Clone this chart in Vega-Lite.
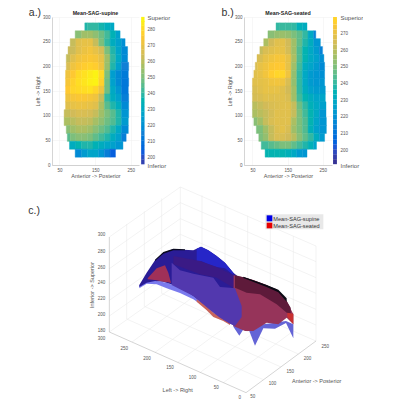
{
"$schema":"https://vega.github.io/schema/vega-lite/v6.json",
"padding":{"left":28,"top":7,"right":0,"bottom":0},
"background":"white",
"config":{"font":"Liberation Sans","view":{"stroke":null},"axis":{"grid":false,"domainColor":"#aaa","tickSize":0,"labelColor":"#555","titleColor":"#555","labelFontWeight":"normal","titleFontWeight":"normal"}},
"datasets":{
"a":[
{"x":121,"x2":128,"y":280,"v":238},{"x":128,"x2":144,"y":280,"v":240},{"x":144,"x2":160,"y":280,"v":240},{"x":160,"x2":176,"y":280,"v":237},{"x":176,"x2":192,"y":280,"v":233},{"x":192,"x2":203,"y":280,"v":230},
{"x":94,"x2":112,"y":264,"v":252},{"x":112,"x2":128,"y":264,"v":256},{"x":128,"x2":144,"y":264,"v":256},{"x":144,"x2":160,"y":264,"v":253},{"x":160,"x2":176,"y":264,"v":248},{"x":176,"x2":192,"y":264,"v":242},{"x":192,"x2":208,"y":264,"v":235},{"x":208,"x2":220,"y":264,"v":226},
{"x":80,"x2":96,"y":248,"v":262},{"x":96,"x2":112,"y":248,"v":268},{"x":112,"x2":128,"y":248,"v":270},{"x":128,"x2":144,"y":248,"v":270},{"x":144,"x2":160,"y":248,"v":262},{"x":160,"x2":176,"y":248,"v":250},{"x":176,"x2":192,"y":248,"v":240},{"x":192,"x2":208,"y":248,"v":232},{"x":208,"x2":224,"y":248,"v":226},{"x":224,"x2":234,"y":248,"v":220},
{"x":74,"x2":96,"y":232,"v":263},{"x":96,"x2":112,"y":232,"v":268},{"x":112,"x2":128,"y":232,"v":271},{"x":128,"x2":144,"y":232,"v":273},{"x":144,"x2":160,"y":232,"v":270},{"x":160,"x2":176,"y":232,"v":265},{"x":176,"x2":192,"y":232,"v":250},{"x":192,"x2":208,"y":232,"v":238},{"x":208,"x2":224,"y":232,"v":228},{"x":224,"x2":241,"y":232,"v":218},
{"x":69,"x2":80,"y":216,"v":262},{"x":80,"x2":96,"y":216,"v":268},{"x":96,"x2":112,"y":216,"v":272},{"x":112,"x2":128,"y":216,"v":274},{"x":128,"x2":144,"y":216,"v":275},{"x":144,"x2":160,"y":216,"v":274},{"x":160,"x2":176,"y":216,"v":270},{"x":176,"x2":192,"y":216,"v":256},{"x":192,"x2":208,"y":216,"v":240},{"x":208,"x2":224,"y":216,"v":230},{"x":224,"x2":241,"y":216,"v":218},
{"x":69,"x2":80,"y":200,"v":266},{"x":80,"x2":96,"y":200,"v":272},{"x":96,"x2":112,"y":200,"v":275},{"x":112,"x2":128,"y":200,"v":277},{"x":128,"x2":144,"y":200,"v":278},{"x":144,"x2":160,"y":200,"v":277},{"x":160,"x2":176,"y":200,"v":272},{"x":176,"x2":192,"y":200,"v":255},{"x":192,"x2":208,"y":200,"v":238},{"x":208,"x2":224,"y":200,"v":226},{"x":224,"x2":244,"y":200,"v":215},
{"x":67,"x2":80,"y":184,"v":272},{"x":80,"x2":96,"y":184,"v":276},{"x":96,"x2":112,"y":184,"v":280},{"x":112,"x2":128,"y":184,"v":282},{"x":128,"x2":144,"y":184,"v":284},{"x":144,"x2":160,"y":184,"v":286},{"x":160,"x2":176,"y":184,"v":280},{"x":176,"x2":192,"y":184,"v":250},{"x":192,"x2":208,"y":184,"v":225},{"x":208,"x2":224,"y":184,"v":218},{"x":224,"x2":243,"y":184,"v":213},
{"x":67,"x2":80,"y":168,"v":274},{"x":80,"x2":96,"y":168,"v":278},{"x":96,"x2":112,"y":168,"v":281},{"x":112,"x2":128,"y":168,"v":283},{"x":128,"x2":144,"y":168,"v":285},{"x":144,"x2":160,"y":168,"v":286},{"x":160,"x2":176,"y":168,"v":278},{"x":176,"x2":192,"y":168,"v":248},{"x":192,"x2":208,"y":168,"v":226},{"x":208,"x2":224,"y":168,"v":218},{"x":224,"x2":244,"y":168,"v":212},
{"x":67,"x2":80,"y":152,"v":276},{"x":80,"x2":96,"y":152,"v":279},{"x":96,"x2":112,"y":152,"v":280},{"x":112,"x2":128,"y":152,"v":281},{"x":128,"x2":144,"y":152,"v":282},{"x":144,"x2":160,"y":152,"v":279},{"x":160,"x2":176,"y":152,"v":272},{"x":176,"x2":192,"y":152,"v":248},{"x":192,"x2":208,"y":152,"v":230},{"x":208,"x2":224,"y":152,"v":222},{"x":224,"x2":243,"y":152,"v":212},
{"x":67,"x2":80,"y":136,"v":272},{"x":80,"x2":96,"y":136,"v":274},{"x":96,"x2":112,"y":136,"v":275},{"x":112,"x2":128,"y":136,"v":275},{"x":128,"x2":144,"y":136,"v":274},{"x":144,"x2":160,"y":136,"v":272},{"x":160,"x2":176,"y":136,"v":262},{"x":176,"x2":192,"y":136,"v":240},{"x":192,"x2":208,"y":136,"v":232},{"x":208,"x2":224,"y":136,"v":226},{"x":224,"x2":244,"y":136,"v":214},
{"x":67,"x2":80,"y":120,"v":268},{"x":80,"x2":96,"y":120,"v":270},{"x":96,"x2":112,"y":120,"v":271},{"x":112,"x2":128,"y":120,"v":271},{"x":128,"x2":144,"y":120,"v":270},{"x":144,"x2":160,"y":120,"v":268},{"x":160,"x2":176,"y":120,"v":258},{"x":176,"x2":192,"y":120,"v":245},{"x":192,"x2":208,"y":120,"v":238},{"x":208,"x2":224,"y":120,"v":232},{"x":224,"x2":244,"y":120,"v":218},
{"x":63,"x2":80,"y":104,"v":262},{"x":80,"x2":96,"y":104,"v":264},{"x":96,"x2":112,"y":104,"v":266},{"x":112,"x2":128,"y":104,"v":266},{"x":128,"x2":144,"y":104,"v":265},{"x":144,"x2":160,"y":104,"v":262},{"x":160,"x2":176,"y":104,"v":256},{"x":176,"x2":192,"y":104,"v":250},{"x":192,"x2":208,"y":104,"v":245},{"x":208,"x2":224,"y":104,"v":238},{"x":224,"x2":244,"y":104,"v":222},
{"x":63,"x2":80,"y":88,"v":258},{"x":80,"x2":96,"y":88,"v":260},{"x":96,"x2":112,"y":88,"v":262},{"x":112,"x2":128,"y":88,"v":262},{"x":128,"x2":144,"y":88,"v":261},{"x":144,"x2":160,"y":88,"v":257},{"x":160,"x2":176,"y":88,"v":253},{"x":176,"x2":192,"y":88,"v":248},{"x":192,"x2":208,"y":88,"v":244},{"x":208,"x2":224,"y":88,"v":238},{"x":224,"x2":243,"y":88,"v":224},
{"x":69,"x2":80,"y":72,"v":252},{"x":80,"x2":96,"y":72,"v":256},{"x":96,"x2":112,"y":72,"v":258},{"x":112,"x2":128,"y":72,"v":258},{"x":128,"x2":144,"y":72,"v":256},{"x":144,"x2":160,"y":72,"v":252},{"x":160,"x2":176,"y":72,"v":248},{"x":176,"x2":192,"y":72,"v":244},{"x":192,"x2":208,"y":72,"v":238},{"x":208,"x2":224,"y":72,"v":230},{"x":224,"x2":243,"y":72,"v":218},
{"x":72,"x2":80,"y":56,"v":245},{"x":80,"x2":96,"y":56,"v":250},{"x":96,"x2":112,"y":56,"v":252},{"x":112,"x2":128,"y":56,"v":252},{"x":128,"x2":144,"y":56,"v":250},{"x":144,"x2":160,"y":56,"v":246},{"x":160,"x2":176,"y":56,"v":242},{"x":176,"x2":192,"y":56,"v":238},{"x":192,"x2":208,"y":56,"v":232},{"x":208,"x2":224,"y":56,"v":226},{"x":224,"x2":237,"y":56,"v":214},
{"x":78,"x2":96,"y":40,"v":232},{"x":96,"x2":112,"y":40,"v":236},{"x":112,"x2":128,"y":40,"v":238},{"x":128,"x2":144,"y":40,"v":238},{"x":144,"x2":160,"y":40,"v":235},{"x":160,"x2":176,"y":40,"v":232},{"x":176,"x2":192,"y":40,"v":229},{"x":192,"x2":208,"y":40,"v":226},{"x":208,"x2":228,"y":40,"v":222},
{"x":94,"x2":112,"y":24,"v":218},{"x":112,"x2":128,"y":24,"v":224},{"x":128,"x2":144,"y":24,"v":228},{"x":144,"x2":160,"y":24,"v":228},{"x":160,"x2":176,"y":24,"v":222},{"x":176,"x2":192,"y":24,"v":214},{"x":192,"x2":207,"y":24,"v":204}
],
"b":[
{"x":117,"x2":128,"y":280,"v":240},{"x":128,"x2":144,"y":280,"v":241},{"x":144,"x2":160,"y":280,"v":241},{"x":160,"x2":176,"y":280,"v":240},{"x":176,"x2":192,"y":280,"v":234},{"x":192,"x2":205,"y":280,"v":232},
{"x":94,"x2":112,"y":264,"v":252},{"x":112,"x2":128,"y":264,"v":254},{"x":128,"x2":144,"y":264,"v":255},{"x":144,"x2":160,"y":264,"v":254},{"x":160,"x2":176,"y":264,"v":250},{"x":176,"x2":192,"y":264,"v":246},{"x":192,"x2":208,"y":264,"v":240},{"x":208,"x2":224,"y":264,"v":230},{"x":224,"x2":230,"y":264,"v":216},
{"x":82,"x2":96,"y":248,"v":258},{"x":96,"x2":112,"y":248,"v":264},{"x":112,"x2":128,"y":248,"v":268},{"x":128,"x2":144,"y":248,"v":269},{"x":144,"x2":160,"y":248,"v":264},{"x":160,"x2":176,"y":248,"v":256},{"x":176,"x2":192,"y":248,"v":246},{"x":192,"x2":208,"y":248,"v":238},{"x":208,"x2":224,"y":248,"v":232},{"x":224,"x2":243,"y":248,"v":222},
{"x":71,"x2":80,"y":232,"v":262},{"x":80,"x2":96,"y":232,"v":266},{"x":96,"x2":112,"y":232,"v":268},{"x":112,"x2":128,"y":232,"v":270},{"x":128,"x2":144,"y":232,"v":270},{"x":144,"x2":160,"y":232,"v":265},{"x":160,"x2":176,"y":232,"v":256},{"x":176,"x2":192,"y":232,"v":244},{"x":192,"x2":208,"y":232,"v":236},{"x":208,"x2":224,"y":232,"v":230},{"x":224,"x2":240,"y":232,"v":224},{"x":240,"x2":249,"y":232,"v":216},
{"x":63,"x2":80,"y":216,"v":266},{"x":80,"x2":96,"y":216,"v":270},{"x":96,"x2":112,"y":216,"v":272},{"x":112,"x2":128,"y":216,"v":274},{"x":128,"x2":144,"y":216,"v":274},{"x":144,"x2":160,"y":216,"v":270},{"x":160,"x2":176,"y":216,"v":258},{"x":176,"x2":192,"y":216,"v":244},{"x":192,"x2":208,"y":216,"v":236},{"x":208,"x2":224,"y":216,"v":230},{"x":224,"x2":240,"y":216,"v":226},{"x":240,"x2":253,"y":216,"v":220},
{"x":58,"x2":64,"y":200,"v":266},{"x":64,"x2":80,"y":200,"v":270},{"x":80,"x2":96,"y":200,"v":272},{"x":96,"x2":112,"y":200,"v":275},{"x":112,"x2":128,"y":200,"v":276},{"x":128,"x2":144,"y":200,"v":276},{"x":144,"x2":160,"y":200,"v":270},{"x":160,"x2":176,"y":200,"v":256},{"x":176,"x2":192,"y":200,"v":242},{"x":192,"x2":208,"y":200,"v":232},{"x":208,"x2":224,"y":200,"v":228},{"x":224,"x2":240,"y":200,"v":224},{"x":240,"x2":255,"y":200,"v":218},
{"x":54,"x2":64,"y":184,"v":268},{"x":64,"x2":80,"y":184,"v":270},{"x":80,"x2":96,"y":184,"v":273},{"x":96,"x2":112,"y":184,"v":277},{"x":112,"x2":128,"y":184,"v":279},{"x":128,"x2":144,"y":184,"v":279},{"x":144,"x2":160,"y":184,"v":272},{"x":160,"x2":176,"y":184,"v":254},{"x":176,"x2":192,"y":184,"v":240},{"x":192,"x2":208,"y":184,"v":230},{"x":208,"x2":224,"y":184,"v":224},{"x":224,"x2":240,"y":184,"v":222},{"x":240,"x2":255,"y":184,"v":220},
{"x":50,"x2":64,"y":168,"v":268},{"x":64,"x2":80,"y":168,"v":269},{"x":80,"x2":96,"y":168,"v":270},{"x":96,"x2":112,"y":168,"v":272},{"x":112,"x2":128,"y":168,"v":273},{"x":128,"x2":144,"y":168,"v":272},{"x":144,"x2":160,"y":168,"v":266},{"x":160,"x2":176,"y":168,"v":254},{"x":176,"x2":192,"y":168,"v":240},{"x":192,"x2":208,"y":168,"v":230},{"x":208,"x2":224,"y":168,"v":224},{"x":224,"x2":240,"y":168,"v":222},{"x":240,"x2":255,"y":168,"v":222},
{"x":50,"x2":64,"y":152,"v":266},{"x":64,"x2":80,"y":152,"v":268},{"x":80,"x2":96,"y":152,"v":270},{"x":96,"x2":112,"y":152,"v":270},{"x":112,"x2":128,"y":152,"v":270},{"x":128,"x2":144,"y":152,"v":268},{"x":144,"x2":160,"y":152,"v":264},{"x":160,"x2":176,"y":152,"v":256},{"x":176,"x2":192,"y":152,"v":240},{"x":192,"x2":208,"y":152,"v":232},{"x":208,"x2":224,"y":152,"v":226},{"x":224,"x2":240,"y":152,"v":224},{"x":240,"x2":257,"y":152,"v":224},
{"x":50,"x2":64,"y":136,"v":265},{"x":64,"x2":80,"y":136,"v":266},{"x":80,"x2":96,"y":136,"v":268},{"x":96,"x2":112,"y":136,"v":268},{"x":112,"x2":128,"y":136,"v":268},{"x":128,"x2":144,"y":136,"v":268},{"x":144,"x2":160,"y":136,"v":266},{"x":160,"x2":176,"y":136,"v":256},{"x":176,"x2":192,"y":136,"v":242},{"x":192,"x2":208,"y":136,"v":236},{"x":208,"x2":224,"y":136,"v":232},{"x":224,"x2":240,"y":136,"v":228},{"x":240,"x2":257,"y":136,"v":228},
{"x":50,"x2":64,"y":120,"v":260},{"x":64,"x2":80,"y":120,"v":262},{"x":80,"x2":96,"y":120,"v":264},{"x":96,"x2":112,"y":120,"v":266},{"x":112,"x2":128,"y":120,"v":267},{"x":128,"x2":144,"y":120,"v":268},{"x":144,"x2":160,"y":120,"v":268},{"x":160,"x2":176,"y":120,"v":262},{"x":176,"x2":192,"y":120,"v":248},{"x":192,"x2":208,"y":120,"v":240},{"x":208,"x2":224,"y":120,"v":234},{"x":224,"x2":240,"y":120,"v":230},{"x":240,"x2":259,"y":120,"v":226},
{"x":50,"x2":64,"y":104,"v":258},{"x":64,"x2":80,"y":104,"v":260},{"x":80,"x2":96,"y":104,"v":262},{"x":96,"x2":112,"y":104,"v":265},{"x":112,"x2":128,"y":104,"v":268},{"x":128,"x2":144,"y":104,"v":268},{"x":144,"x2":160,"y":104,"v":268},{"x":160,"x2":176,"y":104,"v":262},{"x":176,"x2":192,"y":104,"v":250},{"x":192,"x2":208,"y":104,"v":242},{"x":208,"x2":224,"y":104,"v":236},{"x":224,"x2":240,"y":104,"v":230},{"x":240,"x2":259,"y":104,"v":222},
{"x":54,"x2":64,"y":88,"v":252},{"x":64,"x2":80,"y":88,"v":256},{"x":80,"x2":96,"y":88,"v":262},{"x":96,"x2":112,"y":88,"v":266},{"x":112,"x2":128,"y":88,"v":268},{"x":128,"x2":144,"y":88,"v":268},{"x":144,"x2":160,"y":88,"v":268},{"x":160,"x2":176,"y":88,"v":258},{"x":176,"x2":192,"y":88,"v":250},{"x":192,"x2":208,"y":88,"v":244},{"x":208,"x2":224,"y":88,"v":236},{"x":224,"x2":240,"y":88,"v":228},{"x":240,"x2":260,"y":88,"v":222},
{"x":61,"x2":80,"y":72,"v":250},{"x":80,"x2":96,"y":72,"v":256},{"x":96,"x2":112,"y":72,"v":262},{"x":112,"x2":128,"y":72,"v":267},{"x":128,"x2":144,"y":72,"v":269},{"x":144,"x2":160,"y":72,"v":266},{"x":160,"x2":176,"y":72,"v":256},{"x":176,"x2":192,"y":72,"v":250},{"x":192,"x2":208,"y":72,"v":244},{"x":208,"x2":224,"y":72,"v":234},{"x":224,"x2":240,"y":72,"v":226},{"x":240,"x2":260,"y":72,"v":222},
{"x":68,"x2":80,"y":56,"v":250},{"x":80,"x2":96,"y":56,"v":254},{"x":96,"x2":112,"y":56,"v":262},{"x":112,"x2":128,"y":56,"v":266},{"x":128,"x2":144,"y":56,"v":266},{"x":144,"x2":160,"y":56,"v":264},{"x":160,"x2":176,"y":56,"v":260},{"x":176,"x2":192,"y":56,"v":252},{"x":192,"x2":208,"y":56,"v":246},{"x":208,"x2":224,"y":56,"v":240},{"x":224,"x2":240,"y":56,"v":232},{"x":240,"x2":255,"y":56,"v":224},
{"x":75,"x2":96,"y":40,"v":242},{"x":96,"x2":112,"y":40,"v":245},{"x":112,"x2":128,"y":40,"v":247},{"x":128,"x2":144,"y":40,"v":250},{"x":144,"x2":160,"y":40,"v":250},{"x":160,"x2":176,"y":40,"v":246},{"x":176,"x2":192,"y":40,"v":242},{"x":192,"x2":208,"y":40,"v":238},{"x":208,"x2":224,"y":40,"v":234},{"x":224,"x2":232,"y":40,"v":228},
{"x":86,"x2":96,"y":24,"v":236},{"x":96,"x2":112,"y":24,"v":236},{"x":112,"x2":128,"y":24,"v":236},{"x":128,"x2":144,"y":24,"v":236},{"x":144,"x2":160,"y":24,"v":234},{"x":160,"x2":176,"y":24,"v":230},{"x":176,"x2":192,"y":24,"v":224},{"x":192,"x2":205,"y":24,"v":222}
],
"barA":[{"v":197},{"v":200},{"v":203},{"v":206},{"v":209},{"v":212},{"v":215},{"v":218},{"v":221},{"v":224},{"v":227},{"v":230},{"v":233},{"v":236},{"v":239},{"v":242},{"v":245},{"v":248},{"v":251},{"v":254},{"v":257},{"v":260},{"v":263},{"v":266},{"v":269},{"v":272},{"v":275},{"v":278},{"v":281},{"v":284},{"v":286.5}],
"barB":[{"v":193},{"v":196},{"v":199},{"v":202},{"v":205},{"v":208},{"v":211},{"v":214},{"v":217},{"v":220},{"v":223},{"v":226},{"v":229},{"v":232},{"v":235},{"v":238},{"v":241},{"v":244},{"v":247},{"v":250},{"v":253},{"v":256},{"v":259},{"v":262},{"v":265},{"v":268},{"v":271},{"v":274},{"v":277},{"v":278.5}],
"frame":[
{"x":670,"y":605,"x2":880,"y2":450,"k":"g"},{"x":601,"y":574,"x2":811,"y2":419,"k":"g"},{"x":533,"y":544,"x2":743,"y2":389,"k":"g"},{"x":465,"y":514,"x2":675,"y2":359,"k":"g"},{"x":396,"y":483,"x2":606,"y2":328,"k":"g"},
{"x":790,"y":596,"x2":380,"y2":414,"k":"g"},{"x":843,"y":558,"x2":433,"y2":376,"k":"g"},{"x":895,"y":519,"x2":485,"y2":337,"k":"g"},
{"x":380,"y":129,"x2":380,"y2":414,"k":"g"},{"x":433,"y":91,"x2":433,"y2":376,"k":"g"},{"x":485,"y":52,"x2":485,"y2":337,"k":"g"},
{"x":328,"y":215,"x2":541,"y2":65,"k":"g"},{"x":328,"y":263,"x2":541,"y2":113,"k":"g"},{"x":328,"y":310,"x2":541,"y2":160,"k":"g"},{"x":328,"y":358,"x2":541,"y2":208,"k":"g"},{"x":328,"y":405,"x2":541,"y2":255,"k":"g"},
{"x":606,"y":43,"x2":606,"y2":328,"k":"g"},{"x":675,"y":74,"x2":675,"y2":359,"k":"g"},{"x":743,"y":104,"x2":743,"y2":389,"k":"g"},{"x":811,"y":134,"x2":811,"y2":419,"k":"g"},{"x":880,"y":165,"x2":880,"y2":450,"k":"g"},
{"x":541,"y":65,"x2":948,"y2":242,"k":"g"},{"x":541,"y":113,"x2":948,"y2":290,"k":"g"},{"x":541,"y":160,"x2":948,"y2":337,"k":"g"},{"x":541,"y":208,"x2":948,"y2":385,"k":"g"},{"x":541,"y":255,"x2":948,"y2":432,"k":"g"},
{"x":328,"y":168,"x2":541,"y2":18,"k":"g"},{"x":541,"y":18,"x2":948,"y2":195,"k":"g"},{"x":541,"y":18,"x2":541,"y2":303,"k":"g"},{"x":948,"y":195,"x2":948,"y2":480,"k":"g"},{"x":328,"y":453,"x2":541,"y2":303,"k":"g"},{"x":541,"y":303,"x2":948,"y2":480,"k":"g"},
{"x":328,"y":168,"x2":328,"y2":453,"k":"d"},{"x":328,"y":453,"x2":738,"y2":635,"k":"d"},{"x":738,"y":635,"x2":948,"y2":480,"k":"d"}
],
"surface":[
{"p":"a","x":418,"y":312,"y2":322},{"p":"a","x":440,"y":300,"y2":308},{"p":"a","x":470,"y":300,"y2":310},{"p":"a","x":500,"y":305,"y2":322},{"p":"a","x":540,"y":320,"y2":336},{"p":"a","x":580,"y":340,"y2":355},{"p":"a","x":610,"y":365,"y2":375},
{"p":"b","x":590,"y":355,"y2":362},{"p":"b","x":620,"y":375,"y2":388},{"p":"b","x":640,"y":395,"y2":408},{"p":"b","x":670,"y":410,"y2":420},{"p":"b","x":690,"y":425,"y2":432},
{"p":"c","x":700,"y":425,"y2":437},{"p":"c","x":718,"y":430,"y2":464},{"p":"c","x":740,"y":425,"y2":430},{"p":"c","x":765,"y":430,"y2":494},{"p":"c","x":790,"y":430,"y2":442},{"p":"c","x":825,"y":425,"y2":443},{"p":"c","x":858,"y":420,"y2":426},{"p":"c","x":880,"y":430,"y2":472},
{"p":"d","x":418,"y":312,"y2":318},{"p":"d","x":440,"y":275,"y2":305},{"p":"d","x":465,"y":238,"y2":300},{"p":"d","x":490,"y":215,"y2":302},{"p":"d","x":520,"y":204,"y2":312},{"p":"d","x":550,"y":206,"y2":325},{"p":"d","x":580,"y":208,"y2":345},{"p":"d","x":603,"y":197,"y2":362},{"p":"d","x":625,"y":208,"y2":380},{"p":"d","x":650,"y":225,"y2":400},{"p":"d","x":675,"y":245,"y2":418},{"p":"d","x":700,"y":275,"y2":432},{"p":"d","x":712,"y":285,"y2":436},
{"p":"e","x":590,"y":203,"y2":240},{"p":"e","x":603,"y":197,"y2":240},{"p":"e","x":625,"y":208,"y2":250},{"p":"e","x":650,"y":225,"y2":258},{"p":"e","x":675,"y":245,"y2":262},{"p":"e","x":700,"y":275,"y2":282},
{"p":"f","x":700,"y":283,"y2":435},{"p":"f","x":735,"y":290,"y2":450},{"p":"f","x":760,"y":297,"y2":450},{"p":"f","x":800,"y":312,"y2":425},{"p":"f","x":835,"y":330,"y2":430},{"p":"f","x":860,"y":360,"y2":410},{"p":"f","x":880,"y":400,"y2":430},
{"p":"g","x":705,"y":283,"y2":320},{"p":"g","x":740,"y":291,"y2":335},{"p":"g","x":780,"y":305,"y2":340},{"p":"g","x":830,"y":325,"y2":370},{"p":"g","x":860,"y":360,"y2":395},{"p":"g","x":872,"y":380,"y2":398},
{"p":"h","x":520,"y":225,"y2":250},{"p":"h","x":600,"y":240,"y2":280},{"p":"h","x":650,"y":258,"y2":290},{"p":"h","x":700,"y":282,"y2":320},
{"p":"i","x":515,"y":245,"y2":312},{"p":"i","x":540,"y":268,"y2":325},{"p":"i","x":580,"y":278,"y2":345},{"p":"i","x":640,"y":290,"y2":395},{"p":"i","x":660,"y":318,"y2":410},{"p":"i","x":690,"y":320,"y2":428},{"p":"i","x":705,"y":322,"y2":435},{"p":"i","x":725,"y":375,"y2":408},
{"p":"j","x":443,"y":292,"y2":295},{"p":"j","x":470,"y":262,"y2":298},{"p":"j","x":495,"y":253,"y2":303},{"p":"j","x":505,"y":275,"y2":304},{"p":"j","x":513,"y":305,"y2":306},
{"p":"k","x":862,"y":395,"y2":408},{"p":"k","x":880,"y":398,"y2":430},
{"p":"l","x":465,"y":236,"y2":240},{"p":"l","x":490,"y":213,"y2":218},{"p":"l","x":520,"y":203,"y2":208},{"p":"l","x":555,"y":205,"y2":208},
{"p":"m","x":730,"y":287,"y2":291},{"p":"m","x":800,"y":312,"y2":318},{"p":"m","x":835,"y":326,"y2":334},{"p":"m","x":860,"y":352,"y2":362}
],
"ticks":[
{"x":316,"y":163,"t":"300"},{"x":316,"y":212,"t":"280"},{"x":316,"y":260,"t":"260"},{"x":316,"y":307,"t":"240"},{"x":316,"y":355,"t":"220"},{"x":316,"y":402,"t":"200"},{"x":316,"y":449,"t":"180"},{"x":316,"y":473,"t":"300"},
{"x":384,"y":503,"t":"250"},{"x":452,"y":533,"t":"200"},{"x":521,"y":562,"t":"150"},{"x":589,"y":592,"t":"100"},{"x":656,"y":621,"t":"50"},{"x":723,"y":650,"t":"0"},
{"x":766,"y":648,"t":"50"},{"x":829,"y":610,"t":"100"},{"x":882,"y":572,"t":"150"},{"x":934,"y":535,"t":"200"},{"x":987,"y":497,"t":"250"}
],
"swatch":[{"x":796,"x2":970,"y":100,"y2":145,"k":"box"},{"x":800,"x2":817,"y":103,"y2":121,"k":"sup"},{"x":800,"x2":817,"y":125,"y2":142,"k":"sea"}]
},
"vconcat":[
{"hconcat":[
{"width":87,"height":148,
"resolve":{"scale":{"y":"independent"},"axis":{"y":"independent"}},
"layer":[
{"data":{"name":"a"},"mark":{"type":"rect","height":8,"strokeWidth":0.4},
"encoding":{
"x":{"field":"x","type":"quantitative","scale":{"domain":[29,273],"nice":false,"zero":false},"axis":{"values":[50,100,150,200,250],"grid":true,"gridColor":"#eee","gridWidth":0.5,"title":"Anterior -> Posterior","titleFontSize":5.5,"labelFontSize":4.5,"titlePadding":2,"labelPadding":2,"domainWidth":0.5}},
"x2":{"field":"x2"},
"y":{"field":"y","type":"quantitative","scale":{"domain":[0,300],"nice":false},"axis":{"values":[0,50,100,150,200,250,300],"grid":true,"gridColor":"#eee","gridWidth":0.5,"title":"Left -> Right","titleFontSize":5.5,"labelFontSize":4.5,"titlePadding":2,"labelPadding":2,"domainWidth":0.5}},
"color":{"field":"v","type":"quantitative","legend":null,"scale":{"domain":[195,288],"range":["#352a87","#0f5cdd","#1481d6","#06a4ca","#2eb7a4","#87bf77","#d1bb59","#fec832","#f9fb0e"]}},
"stroke":{"field":"v","type":"quantitative","legend":null,"scale":{"domain":[195,288],"range":["#352a87","#0f5cdd","#1481d6","#06a4ca","#2eb7a4","#87bf77","#d1bb59","#fec832","#f9fb0e"]}}}},
{"data":{"values":[{"x":-36,"y":309,"t":"a.)"}]},"mark":{"type":"text","align":"left","baseline":"middle","fontSize":10.5,"color":"#333"},
"encoding":{"x":{"field":"x","type":"quantitative"},"y":{"field":"y","type":"quantitative","scale":{"domain":[0,300],"nice":false},"axis":null},"text":{"field":"t"}}},
{"data":{"values":[{"x":151,"y":309,"t":"Mean-SAG-supine"}]},"mark":{"type":"text","align":"center","baseline":"middle","fontSize":5.3,"fontWeight":"bold","color":"#222"},
"encoding":{"x":{"field":"x","type":"quantitative"},"y":{"field":"y","type":"quantitative","scale":{"domain":[0,300],"nice":false},"axis":null},"text":{"field":"t"}}},
{"data":{"name":"barA"},"mark":{"type":"rect","height":5},
"encoding":{
"x":{"datum":279,"type":"quantitative"},"x2":{"datum":288.5},
"y":{"field":"v","type":"quantitative","scale":{"domain":[195,288],"nice":false,"zero":false},"axis":{"orient":"right","values":[195,200,210,220,230,240,250,260,270,280,288],"labelExpr":"datum.value==288?'Superior':datum.value==195?'Inferior':datum.label","labelFontSize":{"condition":{"test":"datum.value==288||datum.value==195","value":6},"value":4.5},"labelPadding":8,"title":null,"domain":false}},
"color":{"field":"v","type":"quantitative","legend":null}}}
]},
{"width":88,"height":148,
"resolve":{"scale":{"y":"independent"},"axis":{"y":"independent"}},
"layer":[
{"data":{"name":"b"},"mark":{"type":"rect","height":8,"strokeWidth":0.4},
"encoding":{
"x":{"field":"x","type":"quantitative","scale":{"domain":[26,276],"nice":false,"zero":false},"axis":{"values":[50,100,150,200,250],"grid":true,"gridColor":"#eee","gridWidth":0.5,"title":"Anterior -> Posterior","titleFontSize":5.5,"labelFontSize":4.5,"titlePadding":2,"labelPadding":2,"domainWidth":0.5}},
"x2":{"field":"x2"},
"y":{"field":"y","type":"quantitative","scale":{"domain":[0,300],"nice":false},"axis":{"values":[0,50,100,150,200,250,300],"grid":true,"gridColor":"#eee","gridWidth":0.5,"title":"Left -> Right","titleFontSize":5.5,"labelFontSize":4.5,"titlePadding":2,"labelPadding":2,"domainWidth":0.5}},
"color":{"field":"v","type":"quantitative","legend":null,"scale":{"domain":[191,280],"range":["#352a87","#0f5cdd","#1481d6","#06a4ca","#2eb7a4","#87bf77","#d1bb59","#fec832","#f9fb0e"]}},
"stroke":{"field":"v","type":"quantitative","legend":null,"scale":{"domain":[191,280],"range":["#352a87","#0f5cdd","#1481d6","#06a4ca","#2eb7a4","#87bf77","#d1bb59","#fec832","#f9fb0e"]}}}},
{"data":{"values":[{"x":-38,"y":309,"t":"b.)"}]},"mark":{"type":"text","align":"left","baseline":"middle","fontSize":10.5,"color":"#333"},
"encoding":{"x":{"field":"x","type":"quantitative"},"y":{"field":"y","type":"quantitative","scale":{"domain":[0,300],"nice":false},"axis":null},"text":{"field":"t"}}},
{"data":{"values":[{"x":151,"y":309,"t":"Mean-SAG-seated"}]},"mark":{"type":"text","align":"center","baseline":"middle","fontSize":5.3,"fontWeight":"bold","color":"#222"},
"encoding":{"x":{"field":"x","type":"quantitative"},"y":{"field":"y","type":"quantitative","scale":{"domain":[0,300],"nice":false},"axis":null},"text":{"field":"t"}}},
{"data":{"name":"barB"},"mark":{"type":"rect","height":5},
"encoding":{
"x":{"datum":279,"type":"quantitative"},"x2":{"datum":290},
"y":{"field":"v","type":"quantitative","scale":{"domain":[191,280],"nice":false,"zero":false},"axis":{"orient":"right","values":[191,200,210,220,230,240,250,260,270,280],"labelExpr":"datum.value==280?'Superior':datum.value==191?'Inferior':datum.label","labelFontSize":{"condition":{"test":"datum.value==280||datum.value==191","value":6},"value":4.5},"labelPadding":8,"title":null,"domain":false}},
"color":{"field":"v","type":"quantitative","legend":null}}}
]}
],"spacing":105,"bounds":"flush"},
{"width":293,"height":220,
"resolve":{"scale":{"color":"independent"}},
"encoding":{
"x":{"field":"x","type":"quantitative","scale":{"domain":[156,1035],"nice":false,"zero":false},"axis":null},
"y":{"field":"y","type":"quantitative","scale":{"domain":[660,0],"nice":false,"zero":false},"axis":null}},
"layer":[
{"data":{"name":"frame"},"mark":{"type":"rule","strokeWidth":0.5},"encoding":{"x2":{"field":"x2"},"y2":{"field":"y2"},"color":{"field":"k","type":"nominal","legend":null,"scale":{"domain":["g","d"],"range":["#e6e6e6","#aaaaaa"]}}}},
{"data":{"name":"surface"},"mark":{"type":"area","interpolate":"linear"},"encoding":{"y2":{"field":"y2"},"color":{"field":"p","type":"nominal","legend":null,"scale":{"domain":["a","b","c","d","e","f","g","h","i","j","k","l","m"],"range":["#7a7aee","#c8655c","#6464d6","#2a1c96","#2626c8","#96345a","#5e1a3a","#3a1a85","#5238ae","#a03058","#c83030","#0a0a20","#0a0a14"]}}}},
{"data":{"name":"ticks"},"mark":{"type":"text","fontSize":4.5,"color":"#555","align":"right","baseline":"middle"},"encoding":{"text":{"field":"t"}}},
{"data":{"values":[{"x":533,"y":627,"t":"Left -> Right"},{"x":950,"y":601,"t":"Anterior -> Posterior"}]},"mark":{"type":"text","fontSize":5.5,"color":"#555","align":"center","baseline":"middle"},"encoding":{"text":{"field":"t"}}},
{"data":{"values":[{"x":277,"y":312,"t":"Inferior -> Superior"}]},"mark":{"type":"text","fontSize":5.5,"color":"#555","align":"center","baseline":"middle","angle":270},"encoding":{"text":{"field":"t"}}},
{"data":{"name":"swatch"},"mark":{"type":"rect"},"encoding":{"x2":{"field":"x2"},"y2":{"field":"y2"},"color":{"field":"k","type":"nominal","legend":null,"scale":{"domain":["box","sup","sea"],"range":["#e8e8e8","#0000e6","#e60000"]}}}},
{"data":{"values":[{"x":820,"y":113,"t":"Mean-SAG-supine"},{"x":820,"y":134,"t":"Mean-SAG-seated"}]},"mark":{"type":"text","fontSize":5.6,"color":"#333","align":"left","baseline":"middle"},"encoding":{"text":{"field":"t"}}},
{"data":{"values":[{"x":85,"y":90,"t":"c.)"}]},"mark":{"type":"text","fontSize":10.5,"color":"#333","align":"left","baseline":"middle"},"encoding":{"text":{"field":"t"}}}
]}
],"spacing":2
}
